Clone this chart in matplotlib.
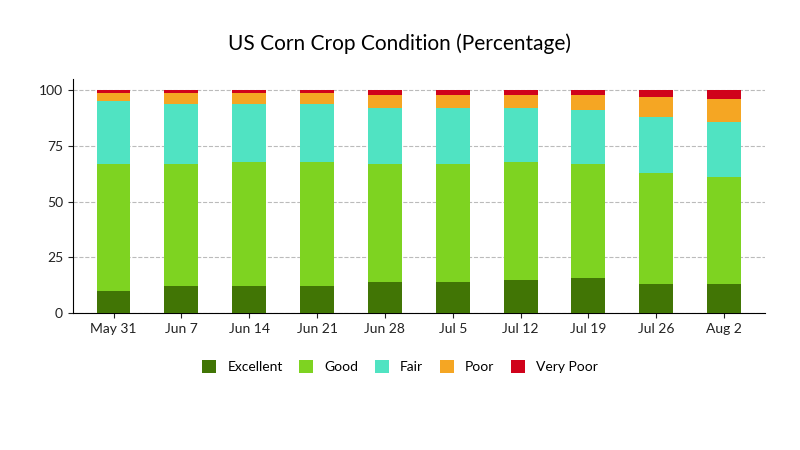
import matplotlib.pyplot as plt
import numpy as np

plt.rcParams['font.family'] = ['Lato', 'DejaVu Sans']

weeks = ['May 31', 'Jun 7', 'Jun 14', 'Jun 21', 'Jun 28', 'Jul 5', 'Jul 12', 'Jul 19', 'Jul 26', 'Aug 2']
excellent = [10, 12, 12, 12, 14, 14, 15, 16, 13, 13]
good = [57, 55, 56, 56, 53, 53, 53, 51, 50, 48]
fair = [28, 27, 26, 26, 25, 25, 24, 24, 25, 25]
poor = [4, 5, 5, 5, 6, 6, 6, 7, 9, 10]
very_poor = [1, 1, 1, 1, 2, 2, 2, 2, 3, 4]

series = [('Excellent', excellent, '#417505'), ('Good', good, '#7ed321'),
          ('Fair', fair, '#50e3c2'), ('Poor', poor, '#f5a623'),
          ('Very Poor', very_poor, '#d0021b')]

fig = plt.figure(figsize=(8, 4.5), dpi=100)
ax = fig.add_axes([0.091, 0.304, 0.865, 0.52])
x = np.arange(len(weeks))
bottom = np.zeros(len(weeks))
for name, vals, color in series:
    ax.bar(x, vals, 0.5, bottom=bottom, color=color, label=name, zorder=3)
    bottom += np.array(vals)

ax.set_xlim(-0.6, len(weeks) - 0.4)
ax.set_ylim(0, 105)
ax.set_yticks([0, 25, 50, 75, 100])
ax.set_xticks(x, weeks)
ax.grid(axis='y', linestyle='--', color='#bbbbbb', zorder=0)
for s in ['top', 'right']:
    ax.spines[s].set_visible(False)
ax.tick_params(labelsize=10, colors='#222222')
fig.suptitle('US Corn Crop Condition (Percentage)', y=0.925, fontsize=15)
fig.legend(loc='center', bbox_to_anchor=(0.5, 0.185), ncol=5, frameon=False,
           fontsize=10, handlelength=1, handleheight=1, columnspacing=1.2)
fig.savefig('out.png')
